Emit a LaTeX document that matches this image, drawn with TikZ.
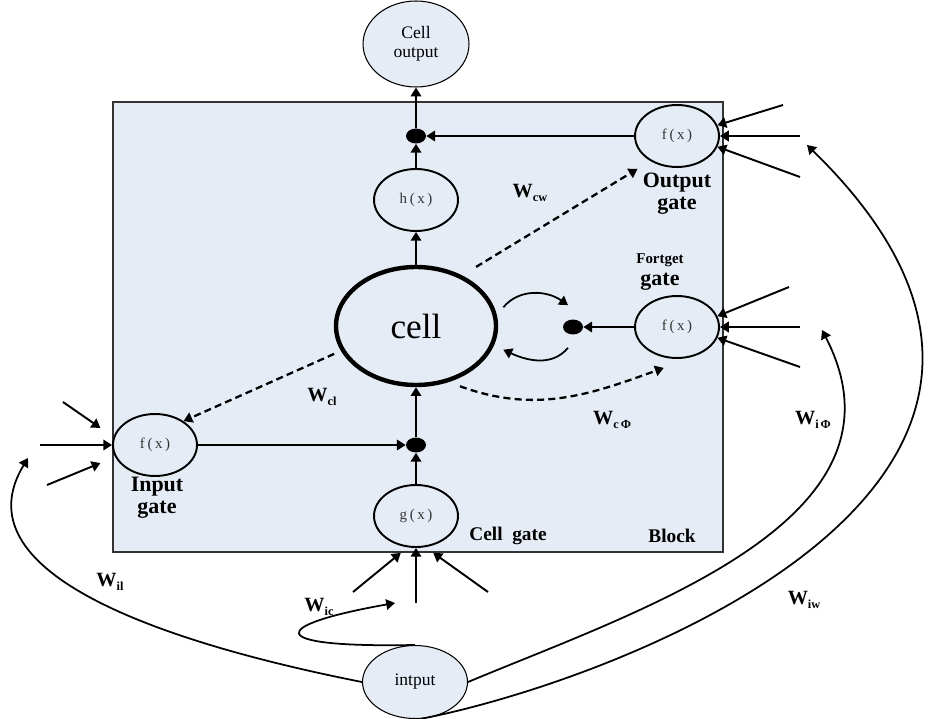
\documentclass[tikz,border=0pt]{standalone}
\usepackage{fontspec}
\setmainfont{Liberation Serif}
\usetikzlibrary{positioning, arrows.meta, calc, shapes.geometric}
\definecolor{blockfill}{HTML}{E6ECF6}
\definecolor{blockline}{HTML}{333333}
\definecolor{fxtext}{HTML}{333333}
\newcommand{\fxl}[1]{#1\hspace{1.6pt}(\hspace{1.4pt}x\hspace{1.4pt})}
\newcommand{\wsub}[1]{W\raisebox{-2.2pt}{\fontsize{7}{7}\selectfont #1}}

\begin{document}
\begin{tikzpicture}[
  x=0.02cm, y=-0.02cm,
  gate/.style={draw, line width=1.1pt, ellipse, fill=blockfill, minimum width=1.68cm,
               minimum height=1.24cm, inner sep=0pt, text=fxtext,
               font=\fontsize{8.5}{8.5}\selectfont},
  io/.style={draw, line width=0.6pt, ellipse, fill=blockfill, inner sep=0pt,
             align=center, font=\fontsize{10}{11}\selectfont},
  dot/.style={ellipse, fill=black, minimum width=0.4cm, minimum height=0.3cm, inner sep=0pt},
  ar/.style={-{Triangle[length=5pt,width=6pt]}, line width=1.1pt},
  dar/.style={ar, dash pattern=on 4pt off 2.4pt, line width=1.3pt},
  wire/.style={-{Triangle[length=5pt,width=6pt]}, line width=1pt},
  lbl/.style={font=\fontsize{12.5}{12.5}\selectfont\bfseries, align=center, inner sep=0pt},
  wlbl/.style={font=\fontsize{11.5}{11.5}\selectfont\bfseries, inner sep=0pt},
]
  \useasboundingbox (0,0) rectangle (929,719);

  % block
  \node[draw=blockline, line width=0.9pt, fill=blockfill, minimum width=12.2cm,
        minimum height=9cm, inner sep=0pt] (block) at (418,327) {};

  % units
  \node[io, minimum width=2.12cm, minimum height=1.72cm] (cout) at (416,44) {Cell\\output};
  \node[io, minimum width=2.1cm, minimum height=1.46cm] (intput) at (415,682) {intput};
  \node[draw, line width=2.5pt, ellipse, fill=blockfill, minimum width=3.2cm,
        minimum height=2.36cm, inner sep=0pt, font=\fontsize{20}{20}\selectfont] (cell) at (416,326) {cell};
  \node[gate] (hgate) at (416,200) {\fxl{h}};
  \node[gate] (ggate) at (416,516) {\fxl{g}};
  \node[gate] (ogate) at (677,136) {\fxl{f}};
  \node[gate] (fgate) at (677,327) {\fxl{f}};
  \node[gate] (igate) at (155,445) {\fxl{f}};
  \node[dot] (odot) at (416,136) {};
  \node[dot] (fdot) at (573,327) {};
  \node[dot] (cdot) at (416,445) {};

  % labels
  \node[lbl] (olbl) at (677,194) {Output\\gate};
  \node[lbl] (flbl) at (660,272) {{\fontsize{8.5}{8.5}\selectfont Fortget}\\gate};
  \node[lbl] (ilbl) at (157,498) {Input\\gate};
  \node[lbl, font=\fontsize{11}{11}\selectfont\bfseries] (glbl) at (508,536) {Cell~~gate};
  \node[lbl, font=\fontsize{11}{11}\selectfont\bfseries] (blbl) at (672,536) {Block};
  \node[wlbl] (wcw) at (530,193) {\wsub{cw}};
  \node[wlbl] (wcl) at (322,397) {\wsub{cl}};
  \node[wlbl] (wcf) at (612,420) {\wsub{c\,Φ}};
  \node[wlbl] (wif) at (813,420) {\wsub{i\,Φ}};
  \node[wlbl] (wiw) at (804,600) {\wsub{iw}};
  \node[wlbl] (wil) at (110,582) {\wsub{il}};
  \node[wlbl] (wic) at (319,607) {\wsub{ic}};

  % free ends of the gate inputs
  \coordinate (oin1) at (783,105);
  \coordinate (oin2) at (800,136);
  \coordinate (oin3) at (800,177);
  \coordinate (fin1) at (789,287);
  \coordinate (fin2) at (800,327);
  \coordinate (fin3) at (800,367);
  \coordinate (iin1) at (63,402);
  \coordinate (iin2) at (40,445);
  \coordinate (iin3) at (47,485);
  \coordinate (gin1) at (353,592);
  \coordinate (gin2) at (416,603);
  \coordinate (gin3) at (488,592);
  \coordinate (wicend) at (395,603);
  \coordinate (wilend) at (28,458);
  \coordinate (wifend) at (822,330);
  \coordinate (wiwend) at (807,145);

  % inside the block
  \draw[ar] (odot) -- (cout);
  \draw[ar] (hgate) -- (odot);
  \draw[ar] (cell) -- (hgate);
  \draw[ar] (ogate) -- (odot);
  \draw[ar] (fgate) -- (fdot);
  \draw[ar] (igate) -- (cdot);
  \draw[ar] (ggate) -- (cdot);
  \draw[ar] (cdot) -- (cell);
  \draw[wire] ([shift={(10,2)}]cell.15) to[out=50,in=145] ([shift={(-5,-14)}]fdot.north);
  \draw[wire] ([shift={(-5,13)}]fdot.south) to[out=-130,in=-25] ([shift={(10,3)}]cell.-15);
  \draw[dar] ([shift={(11,-10)}]cell.45) -- ([shift={(-11,9)}]ogate.220);
  \draw[dar] ([shift={(-8,1)}]cell.200) -- (igate.40);
  \draw[dar] ([shift={(6,6)}]cell.-55) to[out=-20,in=200] ([shift={(-2,10)}]fgate.250);

  % gate inputs
  \draw[ar] (oin1) -- (ogate.15);
  \draw[ar] (oin2) -- (ogate.east);
  \draw[ar] (oin3) -- (ogate.-15);
  \draw[ar] (fin1) -- (fgate.15);
  \draw[ar] (fin2) -- (fgate.east);
  \draw[ar] (fin3) -- (fgate.-15);
  \draw[ar] (iin1) -- ([shift={(-16,-3)}]igate.160);
  \draw[ar] (iin2) -- (igate.west);
  \draw[ar] (iin3) -- ([shift={(-16,4)}]igate.200);
  \draw[ar] (gin1) -- ([shift={(-4,6)}]ggate.-110);
  \draw[ar] (gin2) -- (ggate.south);
  \draw[ar] (gin3) -- ([shift={(6,6)}]ggate.-70);

  % weights from the input
  \draw[wire] (intput.north) .. controls (260,648) and (270,625) .. (wicend);
  \draw[wire] (intput.west) .. controls (150,640) and (-40,570) .. (wilend);
  \draw[wire] (intput.east) .. controls (640,610) and (920,520) .. (wifend);
  \draw[wire] (intput.-80) .. controls (620,680) and (1150,480) .. (wiwend);
\end{tikzpicture}
\end{document}
